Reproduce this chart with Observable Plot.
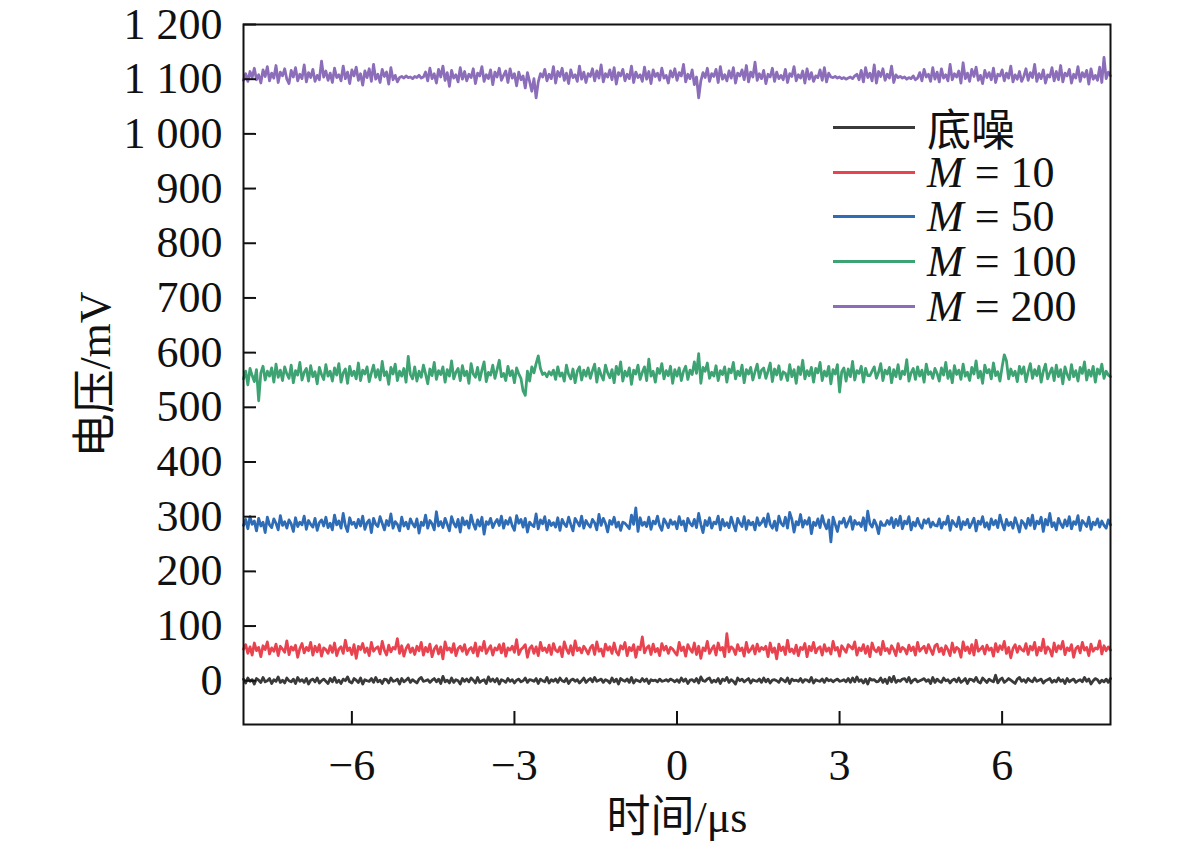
<!DOCTYPE html>
<html><head><meta charset="utf-8">
<script src="https://cdn.jsdelivr.net/npm/d3@7"></script>
<script src="https://cdn.jsdelivr.net/npm/@observablehq/plot@0.6"></script>
<style>
body{margin:0;background:#fff;}
#wrap{position:relative;width:1181px;height:843px;}
#legend{position:absolute;left:833px;top:105px;font-family:"Liberation Serif","Noto Sans CJK SC",serif;font-size:44px;color:#111;}
.row{display:flex;align-items:center;height:44.7px;white-space:pre;}
.sw{width:82px;height:3px;margin-right:12px;}
</style></head><body><div id="wrap"><div id="chart"></div><div id="legend"></div></div>
<script>
// sampling grid (μs)
const tStart = -8, tStep = 0.04;
const seriesNames = ["底噪", "M = 10", "M = 50", "M = 100", "M = 200"];
const seriesColors = ["#3a3a3a", "#e8434f", "#2f6cb6", "#3ea372", "#8b6db9"];
const xTicks = [-6, -3, 0, 3, 6];
const yTicks = [0,100,200,300,400,500,600,700,800,900,1000,1100,1200];

const noise = [
3,-4,5,-1,2,-6,4,1,-3,6,-2,0,4,-5,2,-1,7,-3,1,-4,5,0,-2,3,-5,6,-1,2,-3,4,-6,1,3,-2,5,-4,0,3,-1,-5,
4,-2,6,-3,1,-5,3,0,7,-2,-4,4,1,-3,5,-6,2,0,-1,4,-3,6,-2,1,-5,3,2,-4,5,-1,0,3,-6,4,-2,1,5,-3,2,-1,
-4,3,6,-1,0,2,-3,1,4,-2,3,-5,8,-2,1,-4,5,-3,2,0,-6,4,-1,3,-2,5,1,-4,6,-3,0,2,-5,7,-1,3,-2,4,-6,2,
0,-3,4,-1,2,-4,1,3,-2,0,5,-3,2,1,-1,4,-5,3,0,-2,6,-4,2,-1,3,-3,5,0,-2,4,-5,1,3,-1,2,-4,0,5,-3,1,
4,-2,6,-1,1,3,-3,2,0,-4,5,-2,3,-6,4,1,-1,3,-3,6,-4,2,0,-2,4,-1,3,-5,2,0,1,-2,3,-1,0,2,-1,3,1,-2,
2,-3,5,-1,3,-5,1,2,-2,4,-4,7,0,-1,3,5,-3,1,-2,4,-5,3,0,6,-3,2,-1,-6,5,0,3,-2,1,4,-4,2,0,-1,3,-3,
5,-2,3,-4,1,2,0,-3,4,1,-2,5,-5,3,0,1,-1,4,-3,2,1,-2,6,-4,2,0,-1,3,-3,4,0,2,-2,1,3,-1,0,2,-2,4,
-3,5,-2,7,-1,2,-4,3,-6,4,1,2,-2,-1,5,-3,3,-5,6,-2,8,-3,1,-1,3,4,-2,6,-4,1,3,-2,0,2,4,-1,2,-5,6,-3,
3,-1,-3,5,0,2,-4,1,3,-2,5,-3,0,4,-5,3,2,-1,6,-2,-4,5,1,-3,3,0,-2,10,-4,2,5,-3,0,4,1,-2,-5,3,6,-1,
2,-3,4,0,-2,5,-1,1,3,-4,0,2,4,-3,1,-2,5,-1,2,-5,4,-2,1,3,-3,0,2,-2,6,-1,3,-6,0,4,2,-4,1,-2,3,-3,
4];
const m10 = [
58,66,50,62,47,69,55,61,44,64,57,71,49,60,54,67,46,63,58,52,73,48,62,56,65,43,59,68,51,61,55,70,47,63,53,66,45,60,57,50,
64,52,69,46,58,62,50,74,55,60,48,66,41,63,57,68,52,60,46,70,54,59,62,49,72,56,47,65,53,61,58,77,50,64,45,59,66,52,60,48,
63,55,70,47,61,53,67,44,58,64,49,62,40,71,56,60,52,68,46,59,63,54,66,48,57,61,51,69,45,62,55,72,50,58,64,47,60,56,66,51,
68,45,60,56,63,52,75,48,57,61,66,43,59,64,50,62,46,70,55,60,52,65,48,68,56,53,62,44,71,58,50,64,47,73,55,60,51,63,57,49,
60,65,48,71,54,58,45,67,56,62,50,69,53,47,64,58,70,46,61,55,66,43,62,57,80,51,60,64,48,67,53,59,46,68,56,63,50,61,58,52,
47,70,55,62,45,66,58,52,69,48,63,41,60,55,72,50,58,64,47,69,56,61,44,86,53,62,58,48,66,55,60,45,70,52,57,64,49,67,54,61,
57,63,44,69,52,60,40,67,55,62,48,74,53,58,50,65,46,61,57,68,44,63,55,70,51,59,62,47,66,54,60,49,72,56,61,45,64,58,52,66,
62,58,71,47,60,55,66,50,63,44,69,57,53,61,48,72,55,59,50,64,57,46,68,53,61,58,49,65,55,62,47,70,54,59,63,51,66,57,48,64,
67,53,60,48,64,57,46,69,52,61,58,43,71,55,62,50,66,47,74,54,58,63,49,65,56,60,45,68,53,64,57,72,50,61,42,59,66,52,63,57,
54,68,48,63,56,70,47,61,55,76,50,62,57,45,69,53,64,58,72,48,60,55,66,43,59,63,51,70,56,61,46,67,54,60,58,73,49,64,55,62,
56];
const m50 = [
284,295,278,300,286,292,274,297,283,290,271,299,285,280,296,288,276,302,284,291,279,294,287,273,298,282,290,285,301,277,293,286,281,297,275,289,294,283,299,280,
288,276,303,285,292,279,306,284,273,298,286,290,280,295,283,301,277,289,294,271,297,286,282,300,288,276,293,284,305,279,291,286,274,299,283,290,278,296,287,281,
296,270,290,284,303,279,293,287,276,309,283,291,280,297,286,274,300,288,281,295,272,298,285,292,279,303,287,277,294,283,299,268,291,286,297,280,289,295,284,301,
279,293,286,298,283,275,302,288,295,281,297,272,290,285,282,305,278,294,287,300,276,293,284,289,281,298,275,295,287,282,299,286,274,297,290,283,301,279,293,286,
281,295,289,276,304,284,297,288,272,293,286,299,281,290,275,290,288,283,278,303,286,316,273,298,284,290,282,299,277,292,287,301,283,275,296,289,280,294,286,291,
278,300,285,292,274,297,288,283,295,280,306,286,271,293,284,298,279,290,287,301,276,295,283,289,280,299,286,274,297,288,282,300,277,293,285,290,276,298,284,289,
297,282,305,286,279,292,275,301,288,283,299,279,308,295,272,291,285,304,281,293,286,298,269,290,284,296,280,302,287,278,294,254,299,286,273,291,288,297,281,290,
300,277,293,286,289,282,298,275,310,287,281,294,285,269,291,284,284,293,286,298,280,295,284,301,278,292,287,300,276,290,283,297,285,279,294,288,296,281,290,284,
283,296,279,290,286,301,275,293,287,282,299,277,291,285,295,280,288,297,274,292,286,300,281,289,277,296,285,293,280,303,287,276,295,284,290,279,298,286,272,293,
288,279,297,284,303,278,292,287,299,273,295,285,306,282,289,276,297,287,280,294,283,300,278,291,286,302,275,293,288,282,299,277,290,285,296,281,292,284,279,294,
285];
const m100 = [
552,566,541,571,558,547,569,512,563,575,550,566,557,572,546,579,555,568,549,574,561,553,577,545,567,559,582,550,564,571,548,576,556,565,543,573,560,551,578,557,
566,548,572,559,580,546,563,570,544,575,558,566,552,581,549,568,561,574,547,563,577,555,569,550,584,558,565,542,573,561,579,549,566,557,571,546,593,560,552,574,
548,566,555,577,561,543,570,558,582,551,567,560,574,546,569,557,585,552,564,571,549,576,558,566,544,580,561,555,573,550,568,583,547,564,559,577,553,569,586,556,
562,549,575,558,567,545,572,561,553,530,522,566,548,574,563,580,594,571,560,563,556,565,559,568,551,574,557,563,548,577,560,552,570,545,566,574,550,568,557,572,
553,567,579,546,571,559,550,577,563,554,569,545,575,560,583,548,566,557,572,542,568,561,577,551,564,574,549,588,557,566,546,571,562,580,552,567,558,575,544,569,
557,572,549,566,575,551,568,560,583,562,598,544,573,566,581,553,564,557,576,549,567,560,574,546,570,563,582,552,566,558,577,545,569,561,573,550,565,579,554,568,
572,553,566,581,547,570,559,576,551,565,562,549,578,556,569,544,574,560,586,552,567,558,573,546,571,563,582,549,566,557,575,543,569,561,578,528,565,572,548,570,
556,584,550,567,562,575,546,571,558,558,566,574,553,564,580,549,568,561,573,545,569,556,578,552,566,560,587,548,563,571,551,574,557,568,546,579,560,565,553,571,
562,548,572,559,582,553,567,545,576,560,568,551,579,557,564,549,573,561,585,554,566,544,577,563,569,552,581,558,565,548,574,596,585,552,570,558,566,547,575,561,
574,547,565,580,553,569,558,575,546,566,579,552,563,572,549,577,556,569,543,574,560,551,578,556,567,548,573,562,583,550,568,557,575,546,570,561,579,553,566,559,
556];
const m200 = [
1098,1110,1096,1114,1103,1120,1099,1108,1093,1117,1105,1123,1097,1111,1102,1125,1094,1113,1106,1119,1100,1092,1116,1104,1121,1097,1109,1101,1126,1095,1112,1103,1118,1096,1107,1099,1133,1104,1115,1098,
1111,1094,1120,1103,1108,1097,1124,1101,1113,1092,1117,1106,1122,1098,1110,1089,1115,1103,1119,1096,1127,1100,1109,1094,1118,1105,1113,1091,1121,1099,1107,1095,1103,1105,1102,1106,1103,1104,1101,1105,
1103,1107,1102,1104,1113,1097,1120,1101,1110,1093,1118,1104,1124,1098,1112,1087,1116,1102,1108,1095,1121,1100,1114,1097,1109,1103,1119,1092,1111,1106,1123,1096,1108,1101,1117,1090,1113,1104,1120,1098,
1107,1115,1094,1119,1102,1110,1088,1113,1099,1106,1084,1112,1096,1078,1101,1066,1095,1110,1104,1118,1097,1109,1101,1123,1093,1114,1105,1120,1098,1111,1092,1117,1103,1108,1096,1124,1100,1113,1094,1110,
1105,1119,1097,1115,1102,1126,1095,1110,1104,1117,1099,1121,1091,1112,1106,1118,1097,1109,1101,1124,1094,1113,1103,1108,1096,1122,1100,1114,1092,1117,1105,1111,1098,1120,1102,1107,1093,1115,1104,1119,
1098,1112,1106,1127,1095,1109,1101,1117,1090,1104,1066,1097,1112,1103,1120,1096,1110,1105,1118,1094,1123,1100,1108,1097,1115,1102,1121,1093,1111,1106,1117,1099,1125,1095,1113,1104,1131,1098,1110,1101,
1116,1092,1109,1104,1120,1096,1113,1101,1107,1099,1118,1094,1110,1105,1123,1097,1108,1102,1115,1093,1119,1100,1112,1096,1106,1103,1117,1098,1121,1095,1111,1104,1103,1105,1102,1104,1101,1103,1100,1102,
1104,1101,1106,1109,1099,1116,1095,1121,1103,1111,1097,1126,1093,1114,1105,1119,1098,1109,1102,1124,1094,1108,1103,1105,1102,1104,1100,1103,1101,1106,1099,1102,1112,1097,1118,1104,1109,1096,1121,1100,
1113,1095,1119,1102,1108,1097,1127,1099,1110,1104,1115,1093,1130,1101,1111,1096,1118,1105,1122,1098,1107,1092,1116,1103,1112,1099,1120,1094,1109,1106,1117,1097,1111,1102,1124,1095,1108,1100,1114,1096,
1105,1119,1098,1112,1103,1127,1096,1110,1101,1117,1093,1108,1104,1121,1097,1114,1099,1125,1095,1111,1106,1118,1093,1109,1102,1123,1096,1112,1104,1116,1091,1119,1100,1107,1098,1122,1094,1140,1101,1113,
1106];

const seriesValues = [noise, m10, m50, m100, m200];
const data = seriesValues.flatMap((vals, k) =>
  vals.map((v, i) => ({t: tStart + i * tStep, v, s: seriesNames[k]})));

const locale = d3.formatLocale({decimal: ".", thousands: " ", grouping: [3], currency: ["", ""], minus: "\u2212"});
const fmtY = locale.format(",d");
const fmtX = locale.format("d");
const font = '"Liberation Serif","Noto Sans CJK SC",serif';

const W = 1181, H = 843, mL = 243, mR = 71, mT = 24, mB = 119, tickLen = 13;
const chart = Plot.plot({
  width: W, height: H,
  marginLeft: mL, marginRight: mR, marginTop: mT, marginBottom: mB,
  style: {fontFamily: font, fontSize: "44px", color: "#111", background: "#fff"},
  x: {domain: [-8, 8]},
  y: {domain: [-80, 1200]},
  color: {domain: seriesNames, range: seriesColors},
  marks: [
    Plot.line(data, {x: "t", y: "v", z: "s", stroke: "s", strokeWidth: 2.8}),
    // inward tick marks
    Plot.tickX(xTicks, {x: d => d, stroke: "#111", strokeWidth: 2, insetTop: H - mT - mB - tickLen}),
    Plot.tickY(yTicks, {y: d => d, stroke: "#111", strokeWidth: 2, insetRight: W - mL - mR - tickLen}),
    Plot.frame({stroke: "#111", strokeWidth: 2}),
    // tick labels and axis titles
    Plot.axisX({ticks: xTicks, tickSize: 0, tickPadding: 24, tickFormat: fmtX, fontSize: 44,
      label: "时间/μs", labelArrow: "none", labelAnchor: "center", labelOffset: 107}),
    Plot.axisY({ticks: yTicks, tickSize: 0, tickPadding: 21, tickFormat: fmtY, fontSize: 44,
      label: "电压/mV", labelArrow: "none", labelAnchor: "center", labelOffset: 165})
  ]
});
document.getElementById("chart").append(chart);

const legend = d3.select("#legend");
seriesNames.forEach((name, k) => {
  const row = legend.append("div").attr("class", "row");
  row.append("div").attr("class", "sw").style("background", seriesColors[k]);
  const lab = row.append("span");
  if (name.startsWith("M")) {
    lab.append("i").text("M");
    lab.append("span").text(name.slice(1));
  } else lab.text(name);
});
</script>
</body></html>
